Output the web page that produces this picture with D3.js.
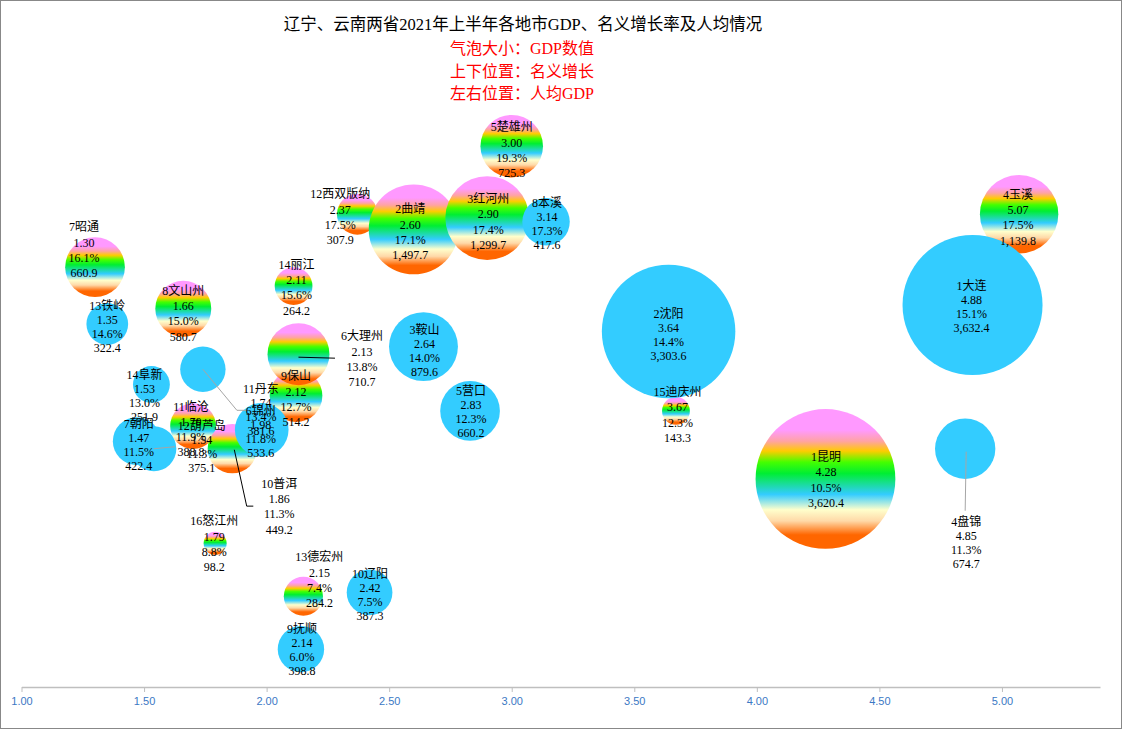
<!DOCTYPE html>
<html>
<head>
<meta charset="utf-8">
<script src="https://cdn.jsdelivr.net/npm/d3@7/dist/d3.min.js"></script>
<style>
  html, body { margin: 0; padding: 0; background: #fff; }
  svg { display: block; }
  .lbl { font-family: "Liberation Serif", "Noto Sans CJK SC", serif; font-size: 12px; fill: #000; }
</style>
</head>
<body>
<svg id="chart" width="1122" height="729"></svg>
<script>
// ---------------- DATA ----------------
// 辽宁 (ordered by GDP rank)
const lnNames     = ["大连","沈阳","鞍山","盘锦","营口","锦州","朝阳","本溪","抚顺","辽阳","丹东","葫芦岛","铁岭","阜新"];
const lnPerCapita = [4.88, 3.64, 2.64, 4.85, 2.83, 1.98, 1.47, 3.14, 2.14, 2.42, 1.74, 1.54, 1.35, 1.53];
const lnGrowth    = [15.1, 14.4, 14.0, 11.3, 12.3, 11.8, 11.5, 17.3, 6.0, 7.5, 13.4, 11.3, 14.6, 13.0];
const lnGDP       = [3632.4, 3303.6, 879.6, 674.7, 660.2, 533.6, 422.4, 417.6, 398.8, 387.3, 381.6, 375.1, 322.4, 251.9];

// 云南 (ordered by GDP rank)
const ynNames     = ["昆明","曲靖","红河州","玉溪","楚雄州","大理州","昭通","文山州","保山","普洱","临沧","西双版纳","德宏州","丽江","迪庆州","怒江州"];
const ynPerCapita = [4.28, 2.60, 2.90, 5.07, 3.00, 2.13, 1.30, 1.66, 2.12, 1.86, 1.70, 2.37, 2.15, 2.11, 3.67, 1.79];
const ynGrowth    = [10.5, 17.1, 17.4, 17.5, 19.3, 13.8, 16.1, 15.0, 12.7, 11.3, 11.9, 17.5, 7.4, 15.6, 12.3, 8.8];
const ynGDP       = [3620.4, 1497.7, 1299.7, 1139.8, 725.3, 710.7, 660.9, 580.7, 514.2, 449.2, 388.8, 307.9, 284.2, 264.2, 143.3, 98.2];

const xTicks = [1.00, 1.50, 2.00, 2.50, 3.00, 3.50, 4.00, 4.50, 5.00];

const titleText = "辽宁、云南两省2021年上半年各地市GDP、名义增长率及人均情况";
const subTitles = ["气泡大小：GDP数值", "上下位置：名义增长", "左右位置：人均GDP"];

// ---------------- LAYOUT (label placement, px offsets from bubble centre) ----------------
const labelLayout = {
  "大连": {dx:-1, dy:2}, "沈阳": {dx:0, dy:4}, "鞍山": {dx:1, dy:4},
  "盘锦": {dx:1, dy:94, leader:[[1,3],[0,62]]},
  "营口": {dx:1, dy:1}, "锦州": {dx:-1, dy:2}, "朝阳": {dx:2, dy:4},
  "本溪": {dx:1, dy:2.5}, "抚顺": {dx:1, dy:1}, "辽阳": {dx:0.5, dy:3},
  "丹东": {dx:58, dy:41, leader:[[0,0],[34,41],[44,41]]},
  "葫芦岛": {dx:48, dy:-2, leader:[[0,0],[21,-2]]},
  "铁岭": {dx:0, dy:3}, "阜新": {dx:-7, dy:12},
  "昆明": {dx:0.5, dy:1}, "曲靖": {dx:-3.5, dy:3}, "红河州": {dx:1, dy:4},
  "玉溪": {dx:-1, dy:3.5}, "楚雄州": {dx:0, dy:4},
  "大理州": {dx:63.5, dy:5, leader:[[0,3],[36.5,4]]},
  "昭通": {dx:-11, dy:-17}, "文山州": {dx:0, dy:5}, "保山": {dx:0, dy:3.5},
  "普洱": {dx:47, dy:58, leader:[[2,1],[14.4,57.4],[21,57.4]]},
  "临沧": {dx:-2, dy:3.5}, "西双版纳": {dx:-17, dy:3}, "德宏州": {dx:16, dy:-16},
  "丽江": {dx:3, dy:1.5}, "迪庆州": {dx:1.5, dy:4}, "怒江州": {dx:-1, dy:1}
};

// ---------------- CHART ----------------
const W = 1122, H = 729;
const svg = d3.select("#chart");

const x = d3.scaleLinear().domain([1, 5.4]).range([21.5, 1100]);
const y = d3.scaleLinear().domain([5, 20]).range([687, 119.7]);
const maxGDP = d3.max(lnGDP.concat(ynGDP));
const r = d3.scaleSqrt().domain([0, maxGDP]).range([0, 70]);

const fmt2 = d3.format(".2f"), fmt1 = d3.format(".1f"), fmtG = d3.format(",.1f");

function build(names, pc, gr, gdp, series) {
  return names.map((n, i) => ({ rank: i + 1, name: n, pc: pc[i], gr: gr[i], gdp: gdp[i], series }));
}
const ln = build(lnNames, lnPerCapita, lnGrowth, lnGDP, "ln");
const yn = build(ynNames, ynPerCapita, ynGrowth, ynGDP, "yn");

const seriesStyle = {
  yn: { fill: "url(#rainbow)", spacing: 15.3, leader: "#000" },
  ln: { fill: "#33CCFF", spacing: 14, leader: "#A6A6A6" }
};

// gradient for Yunnan bubbles
const defs = svg.append("defs");
const grad = defs.append("linearGradient").attr("id", "rainbow")
  .attr("x1", 0).attr("y1", 0).attr("x2", 0).attr("y2", 1);
[[0,"#FF99FF"],[0.15,"#FF99FF"],[0.23,"#FFA3A3"],[0.30,"#FFCC00"],[0.38,"#44FF00"],
 [0.46,"#00EE33"],[0.61,"#33CCFF"],[0.72,"#FFFFCC"],[0.80,"#FFD9A8"],[0.90,"#FF6600"],[1,"#FF6600"]]
 .forEach(s => grad.append("stop").attr("offset", s[0]).attr("stop-color", s[1]));

// border
svg.append("rect").attr("x", 0.5).attr("y", 0.5).attr("width", W - 1).attr("height", H - 1)
  .attr("fill", "none").attr("stroke", "#888");

// titles
svg.append("text").attr("x", 523).attr("y", 24).attr("text-anchor", "middle")
  .attr("dominant-baseline", "central")
  .style("font-family", '"Liberation Serif", "Noto Sans CJK SC", serif').style("font-size", "16.5px")
  .attr("fill", "#000").text(titleText);
subTitles.forEach((t, i) => {
  svg.append("text").attr("x", 522).attr("y", 48.5 + i * 22.5).attr("text-anchor", "middle")
    .attr("dominant-baseline", "central")
    .style("font-family", '"Liberation Serif", "Noto Sans CJK SC", serif').style("font-size", "16px")
    .attr("fill", "#FF0000").text(t);
});

// x axis
const xAxis = d3.axisBottom(x).tickValues(xTicks).tickFormat(d3.format(".2f")).tickSize(5).tickSizeOuter(0);
const gx = svg.append("g").attr("transform", "translate(0,687)").call(xAxis);
gx.select(".domain").attr("stroke", "#BFBFBF").attr("stroke-width", 1.5);
gx.selectAll(".tick line").attr("stroke", "#BFBFBF");
gx.selectAll(".tick text").attr("fill", "#3B78C4")
  .style("font-family", '"Liberation Sans Narrow", "Liberation Sans", sans-serif')
  .style("font-size", "11px").attr("dy", "0.9em").attr("y", 8);

// bubbles: Yunnan first (by per-capita order), then Liaoning on top
const bubbleOrder = yn.slice().sort((a, b) => a.pc - b.pc).concat(ln);
svg.append("g").selectAll("circle").data(bubbleOrder).join("circle")
  .attr("cx", d => x(d.pc)).attr("cy", d => y(d.gr)).attr("r", d => r(d.gdp))
  .attr("fill", d => seriesStyle[d.series].fill);

// leader lines
const all = yn.concat(ln);
const lineGen = d3.line();
const gLead = svg.append("g");
all.forEach(d => {
  const L = labelLayout[d.name] || {dx:0, dy:3};
  if (!L.leader) return;
  const cx = x(d.pc), cy = y(d.gr);
  gLead.append("path").attr("d", lineGen(L.leader.map(p => [cx + p[0], cy + p[1]])))
    .attr("fill", "none").attr("stroke", seriesStyle[d.series].leader).attr("stroke-width", 1);
});

// labels on top of everything
const gLab = svg.append("g");
all.forEach(d => {
  const L = labelLayout[d.name] || {dx:0, dy:3};
  const sp = seriesStyle[d.series].spacing;
  const lx = x(d.pc) + L.dx, ly = y(d.gr) + L.dy;
  const lines = [d.rank + d.name, fmt2(d.pc), fmt1(d.gr) + "%", fmtG(d.gdp)];
  const t = gLab.append("text").attr("class", "lbl").attr("text-anchor", "middle");
  lines.forEach((s, i) => {
    t.append("tspan").attr("x", lx).attr("y", ly + (i - 1.5) * sp)
      .attr("dominant-baseline", "central").text(s);
  });
});
</script>
</body>
</html>
